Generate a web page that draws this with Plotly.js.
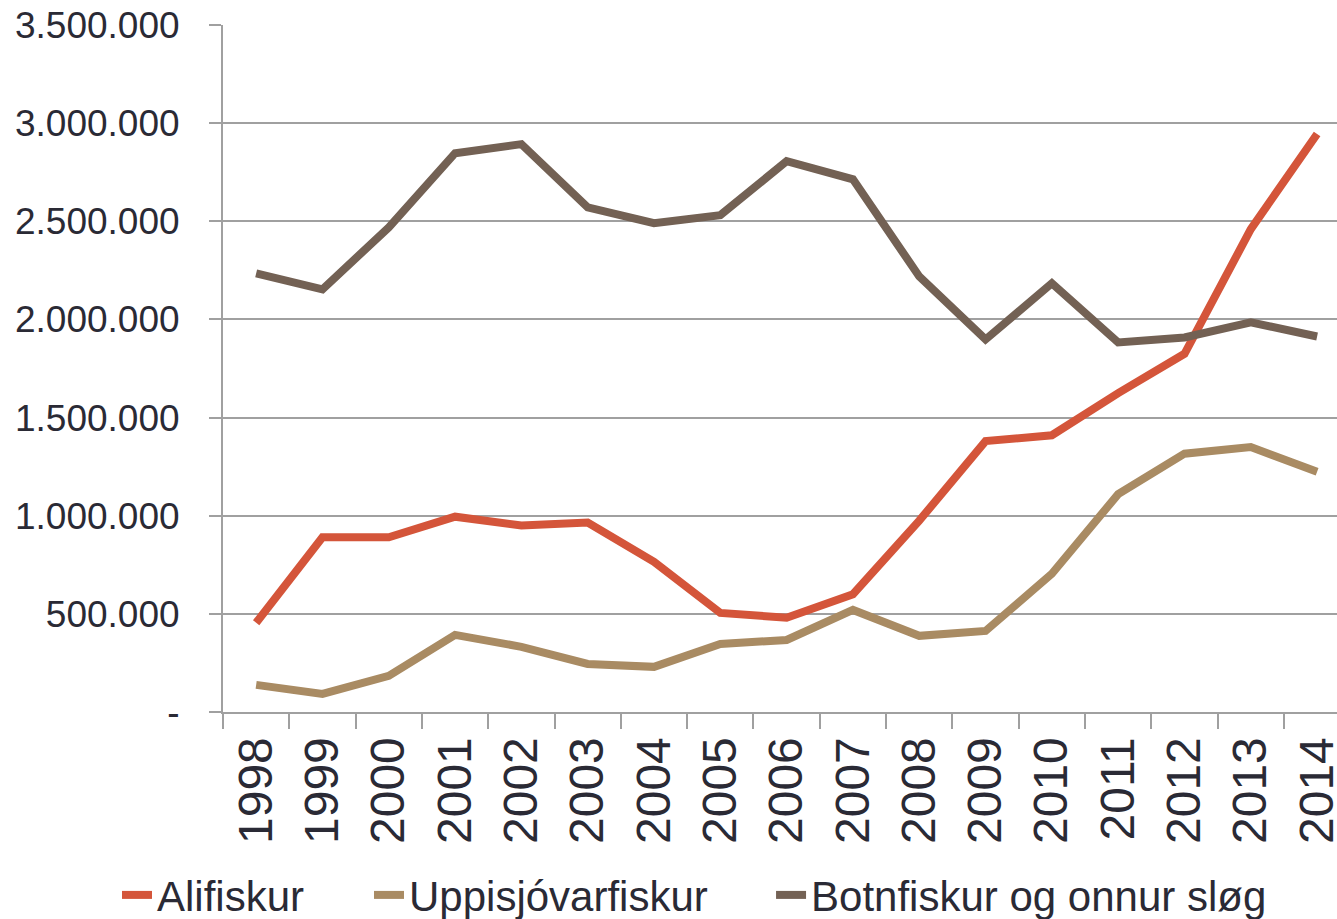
<!DOCTYPE html>
<html>
<head>
<meta charset="utf-8">
<script src="https://cdn.plot.ly/plotly-3.0.1.min.js"></script>
<style>html,body{margin:0;padding:0;background:#fff;}#chart{width:1337px;height:919px;}</style>
</head>
<body>
<div id="chart"></div>
<script>
const years = ["1998","1999","2000","2001","2002","2003","2004","2005","2006","2007","2008","2009","2010","2011","2012","2013","2014"];
const alifiskur = [455000, 890000, 890000, 995000, 950000, 965000, 765000, 505000, 480000, 600000, 975000, 1380000, 1410000, 1625000, 1825000, 2460000, 2945000];
const uppisjovarfiskur = [138000, 92000, 184000, 393000, 332000, 245000, 230000, 347000, 367000, 520000, 388000, 413000, 704000, 1110000, 1316000, 1350000, 1224000];
const botnfiskur = [2235000, 2153000, 2469000, 2847000, 2893000, 2571000, 2490000, 2531000, 2806000, 2714000, 2219000, 1898000, 2184000, 1883000, 1908000, 1985000, 1913000];
const seriesNames = ["Alifiskur", "Uppisjóvarfiskur", "Botnfiskur og onnur sløg"];
const yTickVals = [0, 500000, 1000000, 1500000, 2000000, 2500000, 3000000, 3500000];
const yTickText = ["-", "500.000", "1.000.000", "1.500.000", "2.000.000", "2.500.000", "3.000.000", "3.500.000"];

const colors = ["#d4553a", "#a98b63", "#736154"];
const font = "Liberation Sans, Arial, sans-serif";
const textColor = "#2a2a35";
const axisGray = "#a0a0a0";
const legendIds = ["legend", "legend2", "legend3"];
const legendX = [0.0875, 0.276, 0.5767];

const data = [alifiskur, uppisjovarfiskur, botnfiskur].map((vals, i) => ({
  type: "scatter",
  mode: "lines",
  x: years,
  y: vals,
  name: seriesNames[i],
  legend: legendIds[i],
  line: {color: colors[i], width: 8}
}));

function legendBox(x) {
  return {
    orientation: "h",
    xref: "container",
    yref: "container",
    x: x,
    xanchor: "left",
    y: 0.026,
    yanchor: "middle",
    font: {family: font, size: 42, color: textColor},
    bgcolor: "rgba(0,0,0,0)"
  };
}

const layout = {
  width: 1337,
  height: 919,
  margin: {l: 223, r: 0, t: 25, b: 207},
  paper_bgcolor: "#fff",
  plot_bgcolor: "#fff",
  showlegend: true,
  font: {family: font, size: 36, color: textColor},
  xaxis: {
    type: "category",
    range: [-0.5, 16.3],
    tickangle: -90,
    ticks: "outside",
    tickson: "boundaries",
    ticklen: 15,
    tickwidth: 2,
    tickcolor: axisGray,
    showgrid: false,
    showline: true,
    linecolor: axisGray,
    linewidth: 2,
    ticklabelstandoff: 4,
    tickfont: {family: font, size: 48, color: textColor},
    zeroline: false,
    automargin: false,
    fixedrange: true
  },
  yaxis: {
    range: [0, 3500000],
    tickvals: yTickVals,
    ticktext: yTickText,
    ticks: "outside",
    ticklen: 12,
    tickwidth: 2,
    tickcolor: axisGray,
    showgrid: true,
    gridcolor: axisGray,
    gridwidth: 2,
    showline: true,
    linecolor: axisGray,
    linewidth: 2,
    zeroline: false,
    ticklabelstandoff: 22,
    tickfont: {family: font, size: 37, color: textColor},
    automargin: false,
    fixedrange: true
  },
  legend: legendBox(legendX[0]),
  legend2: legendBox(legendX[1]),
  legend3: legendBox(legendX[2])
};

Plotly.newPlot("chart", data, layout, {displayModeBar: false, staticPlot: true});
</script>
</body>
</html>
